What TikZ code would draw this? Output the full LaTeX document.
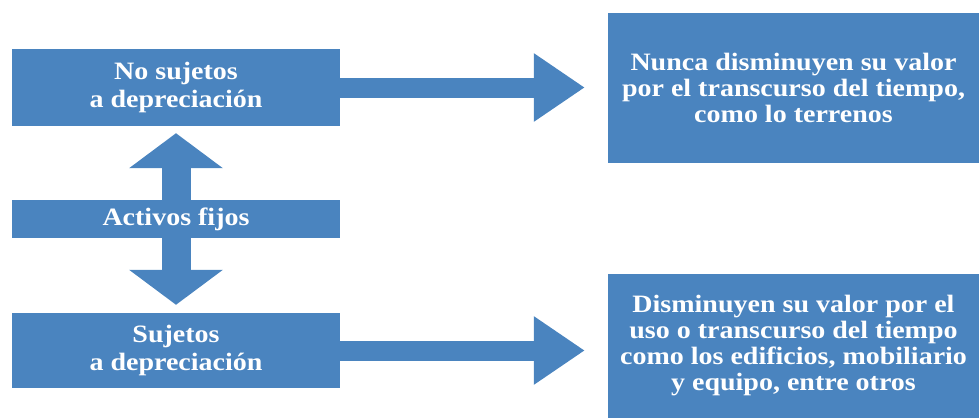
\documentclass[tikz,border=0pt]{standalone}
\usepackage{fontspec}
\setmainfont{Liberation Serif}[FakeStretch=1.12]
\usepackage{tikz}
\usetikzlibrary{arrows.meta}
\definecolor{boxblue}{RGB}{74,132,191}

\begin{document}
\begin{tikzpicture}[x=1pt, y=-1pt,
		leftbox/.style={fill=boxblue, text=white, minimum width=328pt, inner sep=0pt, align=center, font=\fontsize{25}{28}\selectfont\bfseries},
		rightbox/.style={fill=boxblue, text=white, minimum width=371pt, inner sep=0pt, align=center, font=\fontsize{25}{26}\selectfont\bfseries},
		harrow/.style={boxblue, line width=20pt, -{Triangle[width=65pt, length=51pt]}},
		varrow/.style={boxblue, line width=29pt, -{Triangle[width=92pt, length=35pt]}}]
			\useasboundingbox (0,0) rectangle (979,418);
			
			% left column
			\node[leftbox, minimum height=77pt] (nosujetos) at (176,87.5) {No sujetos\\a depreciación};
			\node[leftbox, minimum height=38pt] (activos) at (176,219) {Activos fijos};
			\node[leftbox, minimum height=75pt] (sujetos) at (176,350.5) {Sujetos\\a depreciación};
			
			% right column
			\node[rightbox, minimum height=150pt] (nunca) at (793.5,88) {Nunca disminuyen su valor\\por el transcurso del tiempo,\\como lo terrenos};
			\node[rightbox, minimum height=144pt] (disminuyen) at (793.5,346) {Disminuyen su valor por el\\uso o transcurso del tiempo\\como los edificios, mobiliario\\y equipo, entre otros};
			
			% arrows from activos fijos
			\draw[varrow, shorten >=7pt] (activos.north) -- (nosujetos.south);
			\draw[varrow, shorten >=8pt] (activos.south) -- (sujetos.north);
			
			% arrows to the right
			\draw[harrow, shorten >=23pt] (nosujetos.east) -- (nosujetos.east -| nunca.west);
			\draw[harrow, shorten >=23pt] (sujetos.east) -- (sujetos.east -| disminuyen.west);
			
		\end{tikzpicture}
\end{document}
